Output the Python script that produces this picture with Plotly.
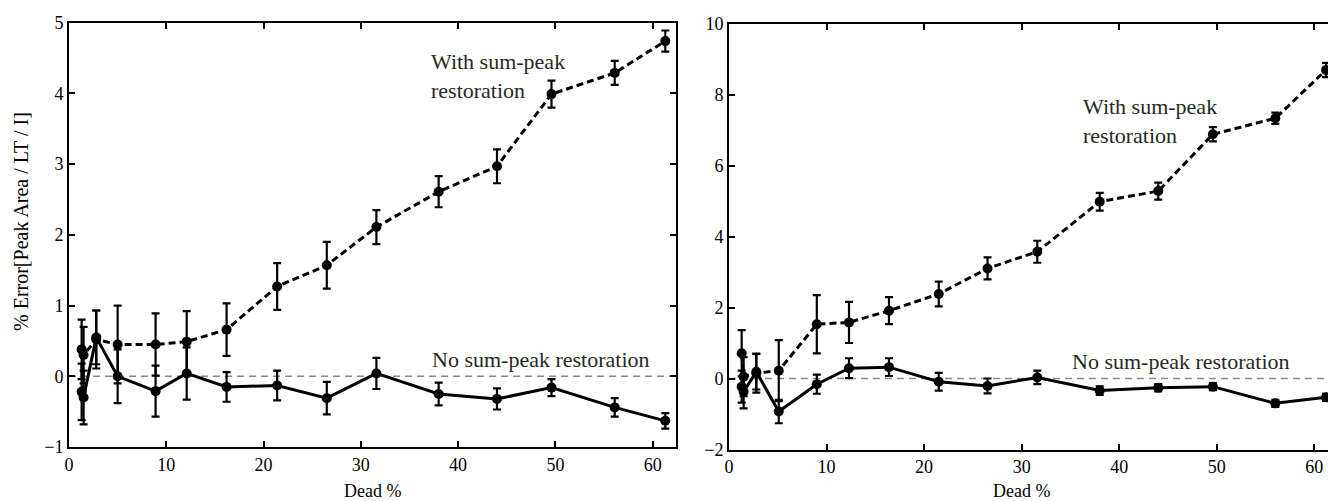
import plotly.graph_objects as go

# ---- data ----
dead_left = [1.3, 1.5, 2.8, 5.0, 8.9, 12.1, 16.2, 21.4, 26.5, 31.6, 38.0, 44.0, 49.6, 56.1, 61.3]
with_left = [0.38, 0.30, 0.52, 0.45, 0.45, 0.49, 0.66, 1.27, 1.57, 2.11, 2.61, 2.97, 3.99, 4.29, 4.74]
with_left_err = [0.42, 0.40, 0.41, 0.55, 0.44, 0.43, 0.37, 0.33, 0.33, 0.24, 0.22, 0.24, 0.19, 0.17, 0.15]
no_left = [-0.22, -0.30, 0.55, 0.00, -0.21, 0.04, -0.15, -0.13, -0.31, 0.04, -0.25, -0.32, -0.16, -0.44, -0.63]
no_left_err = [0.40, 0.38, 0.38, 0.38, 0.36, 0.37, 0.21, 0.21, 0.23, 0.22, 0.16, 0.15, 0.12, 0.13, 0.11]

dead_right = [1.3, 1.5, 2.8, 5.1, 9.0, 12.3, 16.4, 21.5, 26.5, 31.6, 38.0, 44.0, 49.6, 56.0, 61.2]
with_right = [0.71, 0.05, 0.15, 0.22, 1.53, 1.58, 1.91, 2.38, 3.10, 3.57, 4.98, 5.28, 6.88, 7.33, 8.69]
with_right_err = [0.65, 0.55, 0.55, 0.86, 0.82, 0.58, 0.38, 0.35, 0.31, 0.31, 0.25, 0.24, 0.20, 0.16, 0.20]
no_right = [-0.23, -0.37, 0.19, -0.93, -0.16, 0.29, 0.32, -0.09, -0.21, 0.03, -0.34, -0.26, -0.23, -0.70, -0.53]
no_right_err = [0.45, 0.47, 0.50, 0.33, 0.27, 0.28, 0.25, 0.25, 0.21, 0.19, 0.12, 0.10, 0.10, 0.10, 0.10]

x_ticks = [0, 10, 20, 30, 40, 50, 60]
y_ticks_left = [-1, 0, 1, 2, 3, 4, 5]
y_ticks_right = [-2, 0, 2, 4, 6, 8, 10]

label_with = "With sum-peak<br>restoration"
label_no = "No sum-peak restoration"
x_title = "Dead %"
y_title = "% Error[Peak Area / LT / I]"

W, H = 1328, 501
FONT = "Liberation Serif, Times New Roman, serif"


def series(x, y, err, dash, xa, ya):
    return go.Scatter(
        x=x, y=y, mode="lines+markers", xaxis=xa, yaxis=ya,
        line=dict(color="black", width=3, dash=dash),
        marker=dict(color="black", size=10, symbol="circle"),
        error_y=dict(type="data", array=err, color="black", thickness=2.2, width=4),
        showlegend=False,
    )


fig = go.Figure()
fig.add_trace(series(dead_left, with_left, with_left_err, "7px,4px", "x", "y"))
fig.add_trace(series(dead_left, no_left, no_left_err, "solid", "x", "y"))
fig.add_trace(series(dead_right, with_right, with_right_err, "7px,4px", "x2", "y2"))
fig.add_trace(series(dead_right, no_right, no_right_err, "solid", "x2", "y2"))

# zero reference lines
for xr, yr in (("x domain", "y"), ("x2 domain", "y2")):
    fig.add_shape(type="line", xref=xr, yref=yr, x0=0, x1=1, y0=0, y1=0,
                  line=dict(color="#8a8a8a", width=1.5, dash="7px,5px"), layer="below")

axis_common = dict(
    showgrid=False, zeroline=False, showline=True, linecolor="black", linewidth=2,
    ticks="inside", ticklen=6, tickwidth=2, tickcolor="black",
    tickfont=dict(family=FONT, size=18, color="black"), automargin=False,
)

lx0, lx1 = 69 / W, 676 / W
rx0 = 729 / W
ly0, ly1 = (H - 447) / H, (H - 22.7) / H
ry0, ry1 = (H - 449.5) / H, (H - 23.5) / H

fig.update_layout(
    width=W, height=H,
    margin=dict(l=0, r=0, t=0, b=0),
    paper_bgcolor="white", plot_bgcolor="white",
    font=dict(family=FONT, size=18, color="black"),
    xaxis=dict(domain=[lx0, lx1], range=[0, 62.4], tickvals=x_ticks, mirror="ticks",
               anchor="y", **axis_common),
    yaxis=dict(domain=[ly0, ly1], range=[-1, 5], tickvals=y_ticks_left, mirror="ticks",
               anchor="x", **axis_common),
    xaxis2=dict(domain=[rx0, 1.0], range=[0, 61.4], tickvals=x_ticks, mirror="ticks",
                anchor="y2", **axis_common),
    yaxis2=dict(domain=[ry0, ry1], range=[-2, 10], tickvals=y_ticks_right, mirror=False,
                anchor="x2", **axis_common),
)

ann_font = dict(family=FONT, size=22, color="#252b22")
annotations = [
    dict(text=label_with, x=37.0, y=4.25, xref="x", yref="y", xanchor="left",
         yanchor="middle", align="left", showarrow=False, font=ann_font),
    dict(text=label_no, x=37.1, y=0.24, xref="x", yref="y", xanchor="left",
         yanchor="middle", align="left", showarrow=False, font=ann_font),
    dict(text=label_with, x=36.1, y=7.25, xref="x2", yref="y2", xanchor="left",
         yanchor="middle", align="left", showarrow=False, font=ann_font),
    dict(text=label_no, x=35.0, y=0.47, xref="x2", yref="y2", xanchor="left",
         yanchor="middle", align="left", showarrow=False, font=ann_font),
    dict(text=x_title, x=372 / W, y=(H - 491) / H, xref="paper", yref="paper",
         xanchor="center", yanchor="middle", showarrow=False,
         font=dict(family=FONT, size=18, color="black")),
    dict(text=x_title, x=1021 / W, y=(H - 491) / H, xref="paper", yref="paper",
         xanchor="center", yanchor="middle", showarrow=False,
         font=dict(family=FONT, size=18, color="black")),
    dict(text=y_title, x=21 / W, y=(H - 222) / H, xref="paper", yref="paper",
         xanchor="center", yanchor="middle", textangle=-90, showarrow=False,
         font=dict(family=FONT, size=20, color="black")),
]
fig.update_layout(annotations=annotations)

fig.write_html(
    "out.html",
    config={"displayModeBar": False},
    post_script="document.body.style.margin='0px';document.body.style.overflow='hidden';",
)
